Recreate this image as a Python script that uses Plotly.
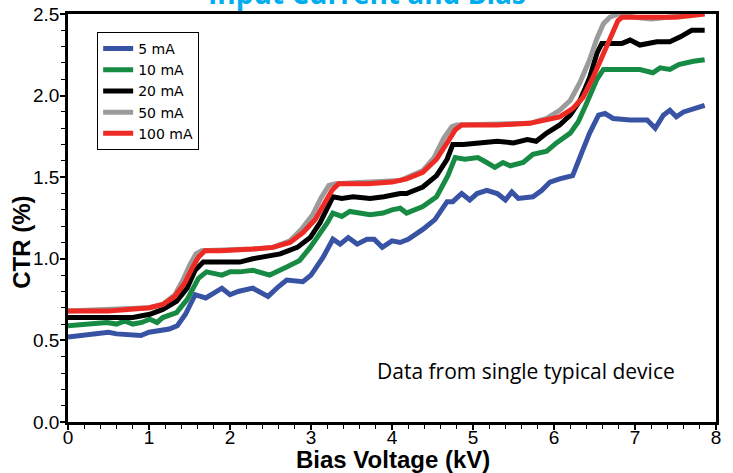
import plotly.graph_objects as go

# ---- data ----
x_5 = [0.0, 0.2, 0.4, 0.5, 0.6, 0.8, 0.9, 1.0, 1.1, 1.25, 1.35, 1.45, 1.57, 1.7, 1.8, 1.9, 2.0, 2.1, 2.28, 2.35, 2.47, 2.6, 2.7, 2.9, 3.0, 3.15, 3.27, 3.36, 3.46, 3.57, 3.69, 3.78, 3.88, 4.0, 4.1, 4.2, 4.38, 4.53, 4.68, 4.75, 4.86, 4.96, 5.05, 5.17, 5.3, 5.4, 5.48, 5.56, 5.74, 5.85, 5.95, 6.07, 6.23, 6.35, 6.44, 6.55, 6.63, 6.73, 6.94, 7.15, 7.25, 7.35, 7.43, 7.51, 7.6, 7.86]
y_5 = [0.52, 0.53, 0.54, 0.55, 0.54, 0.53, 0.53, 0.55, 0.56, 0.57, 0.59, 0.66, 0.78, 0.76, 0.79, 0.82, 0.78, 0.80, 0.82, 0.80, 0.77, 0.83, 0.87, 0.86, 0.90, 1.01, 1.12, 1.09, 1.13, 1.09, 1.12, 1.12, 1.07, 1.11, 1.10, 1.12, 1.18, 1.24, 1.35, 1.35, 1.40, 1.36, 1.40, 1.42, 1.40, 1.36, 1.41, 1.37, 1.38, 1.42, 1.47, 1.49, 1.51, 1.66, 1.77, 1.88, 1.89, 1.86, 1.85, 1.85, 1.80, 1.88, 1.91, 1.87, 1.90, 1.94]

x_10 = [0.0, 0.3, 0.48, 0.6, 0.7, 0.8, 0.91, 1.01, 1.1, 1.17, 1.34, 1.47, 1.61, 1.71, 1.9, 2.0, 2.12, 2.28, 2.49, 2.7, 2.86, 2.99, 3.11, 3.2, 3.27, 3.38, 3.48, 3.73, 3.89, 4.0, 4.1, 4.18, 4.38, 4.55, 4.69, 4.78, 4.9, 5.06, 5.17, 5.27, 5.37, 5.46, 5.62, 5.74, 5.91, 6.03, 6.2, 6.3, 6.4, 6.53, 6.61, 6.9, 7.06, 7.22, 7.31, 7.43, 7.54, 7.72, 7.86]
y_10 = [0.59, 0.60, 0.61, 0.60, 0.62, 0.60, 0.61, 0.63, 0.61, 0.64, 0.67, 0.75, 0.88, 0.92, 0.90, 0.92, 0.92, 0.93, 0.90, 0.95, 0.99, 1.07, 1.15, 1.22, 1.28, 1.26, 1.29, 1.27, 1.28, 1.30, 1.31, 1.28, 1.32, 1.38, 1.51, 1.62, 1.61, 1.62, 1.59, 1.56, 1.59, 1.57, 1.59, 1.64, 1.66, 1.71, 1.77, 1.84, 1.95, 2.10, 2.16, 2.16, 2.16, 2.14, 2.17, 2.16, 2.19, 2.21, 2.22]

x_20 = [0.0, 0.4, 0.8, 1.01, 1.17, 1.34, 1.47, 1.57, 1.67, 1.88, 2.12, 2.28, 2.62, 2.83, 2.99, 3.11, 3.2, 3.27, 3.38, 3.52, 3.73, 3.9, 4.1, 4.18, 4.38, 4.55, 4.68, 4.75, 4.88, 5.05, 5.3, 5.5, 5.67, 5.78, 5.91, 6.07, 6.2, 6.32, 6.44, 6.53, 6.59, 6.73, 6.84, 6.94, 7.06, 7.27, 7.43, 7.56, 7.7, 7.86]
y_20 = [0.64, 0.64, 0.64, 0.66, 0.69, 0.74, 0.82, 0.93, 0.98, 0.98, 0.98, 1.00, 1.03, 1.07, 1.13, 1.22, 1.32, 1.38, 1.37, 1.38, 1.37, 1.38, 1.40, 1.40, 1.44, 1.51, 1.61, 1.70, 1.70, 1.71, 1.72, 1.71, 1.73, 1.72, 1.77, 1.82, 1.88, 1.97, 2.11, 2.26, 2.32, 2.32, 2.32, 2.34, 2.31, 2.33, 2.33, 2.36, 2.40, 2.40]

x_50 = [0.0, 1.0, 1.17, 1.32, 1.42, 1.5, 1.58, 1.65, 2.28, 2.53, 2.74, 2.88, 3.02, 3.12, 3.22, 3.3, 4.1, 4.38, 4.52, 4.64, 4.74, 4.8, 5.7, 5.91, 6.07, 6.2, 6.32, 6.44, 6.53, 6.61, 6.69, 6.8, 7.0, 7.2, 7.4, 7.6, 7.86]
y_50 = [0.68, 0.70, 0.72, 0.78, 0.87, 0.96, 1.03, 1.05, 1.06, 1.07, 1.11, 1.18, 1.27, 1.37, 1.45, 1.46, 1.48, 1.54, 1.62, 1.74, 1.81, 1.82, 1.83, 1.86, 1.91, 1.97, 2.08, 2.22, 2.35, 2.44, 2.48, 2.50, 2.48, 2.47, 2.48, 2.49, 2.51]

x_100 = [0.0, 0.5, 1.01, 1.17, 1.32, 1.44, 1.53, 1.61, 1.69, 1.88, 2.28, 2.53, 2.74, 2.9, 3.05, 3.15, 3.26, 3.34, 3.7, 4.0, 4.1, 4.18, 4.38, 4.55, 4.68, 4.78, 4.86, 5.3, 5.7, 5.91, 6.07, 6.23, 6.36, 6.48, 6.59, 6.69, 6.79, 6.84, 7.1, 7.31, 7.5, 7.7, 7.86]
y_100 = [0.68, 0.68, 0.70, 0.72, 0.77, 0.85, 0.94, 1.01, 1.05, 1.05, 1.06, 1.07, 1.10, 1.16, 1.24, 1.33, 1.42, 1.46, 1.46, 1.47, 1.48, 1.49, 1.53, 1.61, 1.71, 1.79, 1.82, 1.82, 1.83, 1.85, 1.87, 1.92, 1.99, 2.11, 2.24, 2.36, 2.46, 2.48, 2.48, 2.48, 2.48, 2.49, 2.50]

series_names = ["5 mA", "10 mA", "20 mA", "50 mA", "100 mA"]
series_colors = ["#3953A4", "#178A43", "#000000", "#9B9B9B", "#EE2A24"]

x_ticks = [0, 1, 2, 3, 4, 5, 6, 7, 8]
y_ticks = [0.0, 0.5, 1.0, 1.5, 2.0, 2.5]
y_ticklabels = ["0.0", "0.5", "1.0", "1.5", "2.0", "2.5"]

xs = [x_5, x_10, x_20, x_50, x_100]
ys = [y_5, y_10, y_20, y_50, y_100]

fig = go.Figure()
for name, col, xv, yv in zip(series_names, series_colors, xs, ys):
    fig.add_trace(go.Scatter(x=xv, y=yv, mode="lines", name=name,
                             line=dict(color=col, width=5)))

sans = "Liberation Sans, Arial"

fig.update_layout(
    width=733, height=473,
    margin=dict(l=68, r=17, t=14, b=51),
    paper_bgcolor="white", plot_bgcolor="white",
    showlegend=True,
    legend=dict(x=0.045, y=0.956, xanchor="left", yanchor="top",
                bgcolor="white", bordercolor="black", borderwidth=1,
                font=dict(family="DejaVu Sans, Verdana", size=14, color="black"),
                itemwidth=30, tracegroupgap=0),
    xaxis=dict(range=[0, 8], tickvals=x_ticks, ticks="outside", ticklen=5,
               tickwidth=1.5, tickcolor="black", automargin=False,
               ticklabelstandoff=-9,
               showline=True, linecolor="black", linewidth=2.5, mirror=True,
               showgrid=False, zeroline=False,
               minor=dict(dtick=0.2, ticks="outside", ticklen=4, tickwidth=1.2, tickcolor="black"),
               tickfont=dict(family=sans, size=19, color="black")),
    yaxis=dict(range=[0, 2.5], tickvals=y_ticks, ticktext=y_ticklabels,
               ticks="outside", ticklen=5, tickwidth=1.5, tickcolor="black",
               automargin=False, ticklabelstandoff=-3,
               showline=True, linecolor="black", linewidth=2.5, mirror=True,
               showgrid=False, zeroline=False,
               minor=dict(dtick=0.1, ticks="outside", ticklen=4, tickwidth=1.2, tickcolor="black"),
               tickfont=dict(family=sans, size=19, color="black")),
    annotations=[
        dict(text="<b>Bias Voltage (kV)</b>", x=0.5015, y=-0.093, xref="paper", yref="paper",
             xanchor="center", yanchor="middle", showarrow=False,
             font=dict(family=sans, size=24, color="black")),
        dict(text="<b>CTR (%)</b>", x=-0.073, y=0.441, xref="paper", yref="paper",
             xanchor="center", yanchor="middle", textangle=-90, showarrow=False,
             font=dict(family=sans, size=24, color="black")),
        dict(text="Data from single typical device", x=5.65, y=0.31, xref="x", yref="y",
             showarrow=False, font=dict(family="Open Sans, Noto Sans", size=21, color="black")),
        dict(text="<b>Input Current and Bias</b>", x=0.461, y=1.0, xref="paper", yref="paper",
             xanchor="center", yanchor="bottom", showarrow=False,
             font=dict(family="Open Sans, Noto Sans", size=28, color="#00AEEF")),
    ],
)

fig.write_html("out.html", config={"displayModeBar": False},
               post_script="document.body.style.margin='0px';")
